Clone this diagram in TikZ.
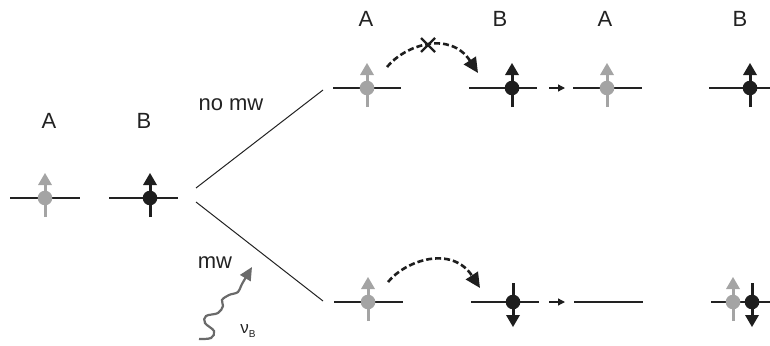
\documentclass[tikz,border=0pt]{standalone}
\usepackage{fontspec}
\setmainfont{Liberation Sans}
\usetikzlibrary{arrows.meta}
\definecolor{spingray}{HTML}{A4A4A4}
\definecolor{spinblack}{HTML}{1E1E1E}
\definecolor{wavegray}{HTML}{6A6A6A}
\definecolor{ink}{HTML}{222222}
\tikzset{
  lvl/.style={line width=1.3pt, draw=ink},
  lbl/.style={font=\fontsize{22}{22}\selectfont, text=ink, inner sep=0pt},
  split/.style={line width=1pt, draw=ink},
  dasharc/.style={line width=2.6pt, draw=spinblack, dash pattern=on 6pt off 3pt,
     -{Triangle[length=15pt,width=14pt]}},
  smallarr/.style={line width=1.3pt, draw=spinblack, -{Triangle[length=7pt,width=7pt]}},
  crossline/.style={line width=2.2pt, draw=spinblack},
  pics/spinup/.style={code={
     \draw[line width=3pt, draw=#1] (0,19) -- (0,-14);
     \fill[#1] (-7,-13) -- (7,-13) -- (0,-25) -- cycle;
     \fill[#1] (0,0) circle (7.3);}},
  pics/spindown/.style={code={
     \draw[line width=3pt, draw=#1] (0,-19) -- (0,14);
     \fill[#1] (-7,13) -- (7,13) -- (0,25) -- cycle;
     \fill[#1] (0,0) circle (7.3);}},
}
\begin{document}
\begin{tikzpicture}[x=1pt,y=-1pt]
\useasboundingbox (0,0) rectangle (770,345);
% labels
\node[lbl] (lA) at (49,121) {A};
\node[lbl] (lB) at (144,121) {B};
\node[lbl] (tA1) at (366,19) {A};
\node[lbl] (tB1) at (500,19) {B};
\node[lbl] (tA2) at (605,19) {A};
\node[lbl] (tB2) at (740,19) {B};
\node[lbl] (nomw) at (231,105) {no mw};
\node[lbl] (mw) at (215,263) {mw};
\node[inner sep=0pt, text=ink] (nu) at (248,331) {\fontsize{17}{17}\selectfont ν\raisebox{-4pt}{\fontsize{10}{10}\selectfont B}};
% left levels
\draw[lvl] (10,198) -- (80,198);
\draw[lvl] (109,198) -- (178,198);
\pic at (45,198) {spinup=spingray};
\pic at (150,198) {spinup=spinblack};
% splitting lines
\coordinate (s1) at (196,188);
\coordinate (s2) at (196,202);
\coordinate (e1) at (323,90);
\coordinate (e2) at (323,301);
\draw[split] (s1) -- (e1);
\draw[split] (s2) -- (e2);
% top row
\draw[lvl] (333,88) -- (401,88);
\draw[lvl] (469,88) -- (537,88);
\draw[lvl] (573,88) -- (642,88);
\draw[lvl] (709,88) -- (770,88);
\pic at (367,88) {spinup=spingray};
\pic at (512,88) {spinup=spinblack};
\pic at (607,88) {spinup=spingray};
\pic at (750,88) {spinup=spinblack};
% bottom row
\draw[lvl] (334,302) -- (403,302);
\draw[lvl] (471,302) -- (539,302);
\draw[lvl] (574,302) -- (643,302);
\draw[lvl] (711,302) -- (770,302);
\pic at (368,302) {spinup=spingray};
\pic at (513,302) {spindown=spinblack};
\pic at (733,302) {spinup=spingray};
\pic at (752,302) {spindown=spinblack};
% small arrows
\coordinate (sa1) at (549,88); \coordinate (sb1) at (565,88);
\coordinate (sa2) at (549,302); \coordinate (sb2) at (565,302);
\draw[smallarr] (sa1) -- (sb1);
\draw[smallarr] (sa2) -- (sb2);
% dashed arcs
\coordinate (da1) at (387,67); \coordinate (db1) at (478,73);
\coordinate (da2) at (388,282); \coordinate (db2) at (480,288);
\draw[dasharc] (da1) .. controls (405,45) and (450,30) .. (db1);
\draw[dasharc] (da2) .. controls (406,260) and (452,245) .. (db2);
% cross
\coordinate (x) at (428,45);
\draw[crossline] ([shift={(-7,-7)}]x) -- ([shift={(7,7)}]x);
\draw[crossline] ([shift={(-7,7)}]x) -- ([shift={(7,-7)}]x);
% microwave
\draw[line width=2.2pt, draw=wavegray, -{Triangle[length=13pt,width=12pt]}]
  plot[smooth, tension=0.6] coordinates {(199,339) (211,338) (214,331) (205,323) (206,316) (218,313) (223,306) (222,300) (229,295) (238,292) (242,284) (252,267)};
\end{tikzpicture}
\end{document}
